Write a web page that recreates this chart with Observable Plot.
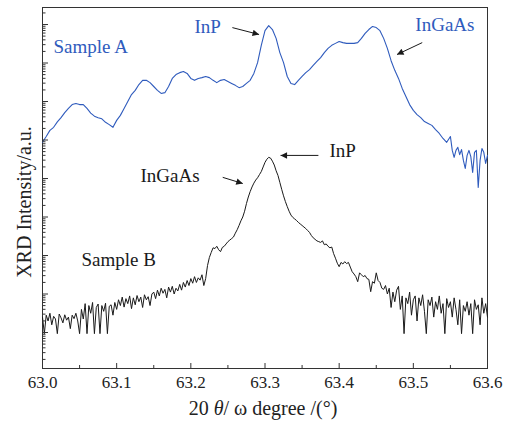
<!DOCTYPE html>
<html><head><meta charset="utf-8">
<script src="https://cdn.jsdelivr.net/npm/d3@7"></script>
<script src="https://cdn.jsdelivr.net/npm/@observablehq/plot@0.6"></script>
<style>body{margin:0;background:#fff} svg{display:block}</style>
</head><body><div id="chart"></div>
<script>
// ---- data (log10 of intensity) ----
const sampleAStart = 63.0, sampleAStep = 0.005;
const sampleALog = [
5.94,6.09,6.25,6.33,6.47,6.58,6.71,6.82,6.92,6.95,6.92,6.92,6.82,6.70,6.62,6.58,6.55,6.46,6.40,6.33,
6.51,6.64,6.82,7.00,7.18,7.29,7.44,7.55,7.55,7.49,7.39,7.29,7.21,7.23,7.39,7.60,7.70,7.75,7.78,7.73,
7.60,7.55,7.60,7.62,7.65,7.62,7.55,7.49,7.55,7.57,7.52,7.47,7.42,7.36,7.39,7.47,7.55,7.73,8.01,8.46,
8.84,8.97,8.87,8.64,8.27,8.01,7.65,7.47,7.44,7.55,7.65,7.75,7.83,7.94,8.04,8.14,8.27,8.38,8.46,8.51,
8.56,8.53,8.51,8.51,8.51,8.53,8.64,8.77,8.87,8.95,8.92,8.84,8.64,8.38,8.06,7.81,7.60,7.34,7.13,6.92,
6.77,6.66,6.58,6.48,6.43,6.38,6.27,6.17,6.04,5.94,6.09];
const sampleATailStart = 63.5525, sampleATailStep = 0.0025;
const sampleATailLog = [5.73,5.55,5.73,5.81,5.62,5.75,5.47,5.26,5.60,5.73,5.57,5.16,5.68,5.73,4.77,5.47,5.78,5.68,5.39,5.60];

const sampleBStart = 63.0, sampleBStep = 0.0025;
const sampleBLog = [
1.40,0.97,1.45,1.30,1.50,1.20,1.42,1.35,0.97,1.48,1.38,1.25,1.46,1.32,1.40,1.10,1.45,1.36,1.50,1.30,
0.97,1.60,1.35,1.75,0.97,1.70,1.50,1.78,0.97,1.65,1.74,0.97,1.70,1.55,1.76,0.97,1.68,1.72,1.45,1.78,
1.60,1.85,1.70,1.92,1.66,1.88,1.75,1.95,1.62,1.90,1.72,1.96,1.80,1.92,1.65,1.98,1.85,1.93,1.70,2.00,
2.05,1.88,2.10,1.95,2.15,2.02,2.12,1.90,2.18,2.05,2.20,2.00,2.15,2.08,2.25,2.10,2.30,2.18,2.35,2.22,
2.40,2.28,2.45,2.30,2.42,2.36,2.50,2.22,2.40,2.74,2.95,3.08,3.20,3.18,3.24,3.15,3.10,3.21,3.24,3.30,
3.36,3.40,3.44,3.48,3.58,3.67,3.78,3.90,4.00,4.15,4.35,4.52,4.66,4.78,4.88,4.96,5.02,5.10,5.18,5.30,
5.42,5.50,5.55,5.53,5.45,5.35,5.20,5.08,4.90,4.72,4.55,4.40,4.27,4.15,4.05,3.99,3.95,3.91,3.86,3.82,
3.78,3.74,3.70,3.65,3.60,3.52,3.46,3.42,3.38,3.36,3.34,3.38,3.28,3.30,3.24,3.20,3.22,3.05,2.93,2.80,
2.71,2.82,2.78,2.84,2.79,2.82,2.70,2.58,2.52,2.45,2.32,2.55,2.50,2.45,2.48,2.40,2.38,2.06,2.32,2.28,
2.55,2.35,2.30,2.15,2.12,2.22,2.00,2.15,1.65,2.05,1.80,2.10,2.20,1.60,1.95,0.97,1.90,1.75,2.05,1.45,
1.85,1.95,1.30,1.90,1.70,1.98,1.55,0.97,1.85,1.70,1.92,1.40,1.80,1.60,1.95,1.50,1.75,0.97,1.88,1.65,
1.80,1.40,1.90,1.60,1.20,1.85,0.97,1.70,1.55,1.80,1.45,1.75,0.97,1.85,1.60,1.72,1.20,1.90,1.50,1.75,1.40];

const xTicks = [63.0, 63.1, 63.2, 63.3, 63.4, 63.5, 63.6];
const xMinorTicks = [63.05, 63.15, 63.25, 63.35, 63.45, 63.55];
const yMajorExp = [1, 2, 3, 4, 5, 6, 7, 8, 9];
const yMinorMult = [2, 3, 4, 5, 6, 7, 8, 9];

const labelText = ["Sample A", "InP", "InGaAs", "InGaAs", "InP", "Sample B"];
const labelSample = ["A", "A", "A", "B", "B", "B"];
const labelAngle = [63.0148, 63.2049, 63.5027, 63.1321, 63.3868, 63.0526];
const labelLog = [8.27, 8.79, 8.82, 4.92, 5.57, 2.74];

const arrowFromAngle = [63.256, 63.512, 63.243, 63.372];
const arrowFromLog = [8.92, 8.53, 5.03, 5.60];
const arrowToAngle = [63.292, 63.478, 63.270, 63.321];
const arrowToLog = [8.74, 8.22, 4.87, 5.60];

// ---- build tables ----
const blue = "#2f5bbd";
const ink = "#1a1a1a";
const dataA = sampleALog.map((L, i) => ({x: sampleAStart + i * sampleAStep, y: 10 ** L}))
  .concat(sampleATailLog.map((L, j) => ({x: sampleATailStart + j * sampleATailStep, y: 10 ** L})));
const dataB = sampleBLog.map((L, i) => ({x: sampleBStart + i * sampleBStep, y: 10 ** L}));
const labels = labelText.map((t, i) => ({t, s: labelSample[i], x: labelAngle[i], y: 10 ** labelLog[i]}));
const arrows = arrowFromAngle.map((a, i) => ({x1: a, y1: 10 ** arrowFromLog[i], x2: arrowToAngle[i], y2: 10 ** arrowToLog[i]}));
const yMajor = yMajorExp.map(e => 10 ** e);
const yMinor = [];
for (const e of [0, ...yMajorExp]) for (const m of yMinorMult) yMinor.push(m * 10 ** e);
const yLo = 10 ** 0.065, yHi = 10 ** 9.442;
const yMinorIn = yMinor.filter(v => v > yLo && v < yHi);
const blank = () => "";

const serif = "'Liberation Serif', serif";
const plot = Plot.plot({
  width: 510, height: 424,
  marginLeft: 42, marginRight: 23, marginTop: 7, marginBottom: 56,
  style: "font-family: 'Liberation Serif', serif; background: #fff; color: #222;",
  x: {domain: [63.0, 63.6]},
  y: {type: "log", domain: [yLo, yHi]},
  marks: [
    Plot.frame({stroke: "#333", strokeWidth: 1}),
    Plot.line(dataB, {x: "x", y: "y", stroke: ink, strokeWidth: 1}),
    Plot.line(dataA, {x: "x", y: "y", stroke: blue, strokeWidth: 1.1}),
    Plot.axisX({ticks: xTicks, tickSize: -5, tickFormat: blank, label: null, stroke: "#333"}),
    Plot.axisX({ticks: xMinorTicks, tickSize: -3, tickFormat: blank, label: null, stroke: "#333"}),
    Plot.axisX({ticks: xTicks, tickSize: 0, tickPadding: 7, tickFormat: d3.format(".1f"), fontSize: 17, label: null, fill: "#222"}),
    Plot.axisY({ticks: yMajor, tickSize: -6, tickFormat: blank, label: null, stroke: "#333"}),
    Plot.axisY({ticks: yMinorIn, tickSize: -3.5, tickFormat: blank, label: null, stroke: "#333"}),
    Plot.link(arrows, {x1: "x1", y1: "y1", x2: "x2", y2: "y2", stroke: ink, strokeWidth: 1}),
    Plot.text(labels, {x: "x", y: "y", text: "t", textAnchor: "start", lineAnchor: "bottom",
      fill: d => d.s === "A" ? blue : ink, fontSize: 19, fontFamily: "Liberation Serif"})
  ]
});

const svg = d3.select(plot);
const defs = svg.append("defs");
defs.append("marker").attr("id", "ah").attr("viewBox", "0 0 10 10")
  .attr("refX", 10).attr("refY", 5).attr("markerWidth", 9).attr("markerHeight", 6.5)
  .attr("markerUnits", "userSpaceOnUse").attr("orient", "auto")
  .append("path").attr("d", "M0,0L10,5L0,10Z").attr("fill", ink);
svg.selectAll('g[aria-label="link"] path').attr("marker-end", "url(#ah)");

const xt = svg.append("text").attr("x", 263).attr("y", 415).attr("text-anchor", "middle")
  .attr("font-size", 20).attr("font-family", serif).attr("fill", "#222");
xt.append("tspan").text("20 ");
xt.append("tspan").attr("font-style", "italic").text("θ");
xt.append("tspan").text("/ ω degree /(°)");

svg.append("text").attr("transform", "translate(31,202) rotate(-90)").attr("text-anchor", "middle")
  .attr("font-size", 20).attr("font-family", serif).attr("fill", "#222").text("XRD Intensity/a.u.");

document.getElementById("chart").appendChild(plot);
</script></body></html>
